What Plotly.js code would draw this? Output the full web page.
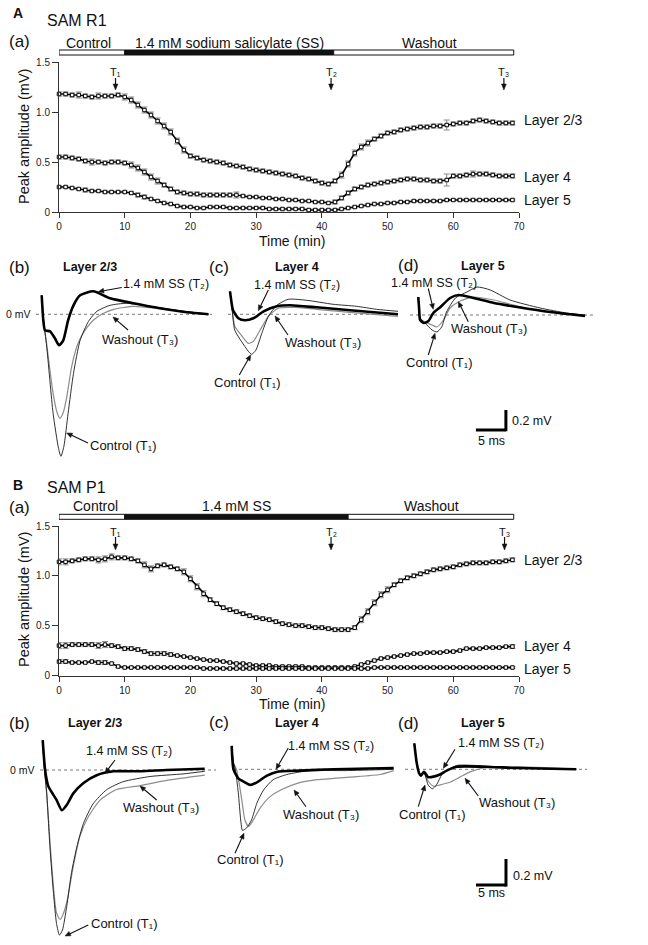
<!DOCTYPE html>
<html>
<head>
<meta charset="utf-8">
<script src="https://cdn.plot.ly/plotly-3.0.1.min.js"></script>
<style>html,body{margin:0;padding:0;background:#fff}#chart{width:648px;height:945px}</style>
</head>
<body>
<div id="chart"></div>
<script>
// ---------------- DATA ----------------
const minutes = [0,1,2,3,4,5,6,7,8,9,10,11,12,13,14,15,16,17,18,19,20,21,22,23,24,25,26,27,28,29,30,31,32,33,34,35,36,37,38,39,40,41,42,43,44,45,46,47,48,49,50,51,52,53,54,55,56,57,58,59,60,61,62,63,64,65,66,67,68,69];
const timeTicks = [0,10,20,30,40,50,60,70];
const ampTicks = [0,0.5,1.0,1.5];
const ampTickText = ['0','0.5','1.0','1.5'];

// Panel A (SAM R1) peak amplitudes (mV)
const aL23 = [1.18,1.18,1.17,1.17,1.16,1.15,1.16,1.16,1.16,1.17,1.15,1.12,1.07,1.02,0.97,0.91,0.86,0.80,0.71,0.62,0.56,0.54,0.52,0.51,0.50,0.49,0.47,0.46,0.45,0.43,0.42,0.41,0.40,0.39,0.38,0.37,0.36,0.34,0.33,0.31,0.29,0.28,0.31,0.37,0.48,0.59,0.65,0.69,0.73,0.76,0.79,0.80,0.82,0.83,0.84,0.85,0.85,0.86,0.86,0.87,0.88,0.89,0.89,0.91,0.92,0.91,0.90,0.89,0.89,0.89];
const aL4 = [0.55,0.55,0.54,0.53,0.51,0.50,0.50,0.49,0.50,0.50,0.49,0.47,0.44,0.40,0.35,0.31,0.27,0.23,0.20,0.19,0.18,0.18,0.17,0.17,0.17,0.17,0.17,0.17,0.16,0.15,0.15,0.14,0.14,0.13,0.13,0.12,0.12,0.11,0.11,0.10,0.10,0.09,0.10,0.14,0.19,0.23,0.25,0.27,0.28,0.29,0.30,0.31,0.32,0.33,0.33,0.32,0.32,0.31,0.31,0.32,0.36,0.36,0.37,0.38,0.38,0.38,0.37,0.36,0.36,0.36];
const aL5 = [0.25,0.25,0.24,0.23,0.22,0.21,0.21,0.20,0.20,0.20,0.20,0.19,0.17,0.15,0.13,0.11,0.09,0.08,0.06,0.05,0.05,0.04,0.04,0.05,0.05,0.05,0.04,0.04,0.04,0.04,0.04,0.04,0.03,0.03,0.03,0.03,0.03,0.03,0.02,0.02,0.02,0.02,0.02,0.03,0.04,0.05,0.06,0.07,0.08,0.08,0.09,0.09,0.10,0.10,0.11,0.11,0.11,0.11,0.11,0.12,0.12,0.12,0.12,0.12,0.12,0.12,0.12,0.12,0.12,0.12];
const aErr23 = [0.02,0.02,0.02,0.03,0.02,0.02,0.03,0.02,0.02,0.02,0.03,0.03,0.03,0.03,0.03,0.03,0.03,0.03,0.03,0.03,0.02,0.02,0.02,0.02,0.02,0.02,0.02,0.02,0.02,0.02,0.02,0.02,0.02,0.02,0.02,0.02,0.02,0.02,0.02,0.02,0.02,0.02,0.02,0.03,0.03,0.03,0.03,0.03,0.02,0.02,0.02,0.02,0.02,0.02,0.02,0.02,0.02,0.02,0.02,0.05,0.02,0.02,0.02,0.02,0.02,0.02,0.02,0.02,0.02,0.02];
const aErr4 = [0.02,0.02,0.02,0.02,0.02,0.03,0.02,0.02,0.02,0.02,0.02,0.03,0.03,0.03,0.03,0.03,0.02,0.02,0.02,0.02,0.02,0.02,0.02,0.02,0.02,0.02,0.02,0.03,0.01,0.01,0.01,0.01,0.01,0.01,0.01,0.01,0.01,0.01,0.01,0.01,0.01,0.01,0.02,0.02,0.02,0.02,0.02,0.02,0.02,0.02,0.02,0.02,0.02,0.02,0.02,0.02,0.02,0.02,0.02,0.06,0.02,0.02,0.02,0.03,0.02,0.02,0.02,0.02,0.02,0.02];
const aErr5 = [0.01,0.01,0.01,0.01,0.02,0.01,0.01,0.01,0.01,0.01,0.01,0.01,0.02,0.02,0.01,0.01,0.01,0.01,0.01,0.01,0.01,0.01,0.01,0.01,0.01,0.01,0.01,0.01,0.01,0.01,0.01,0.01,0.01,0.01,0.01,0.01,0.01,0.01,0.01,0.01,0.01,0.01,0.01,0.01,0.01,0.01,0.01,0.01,0.01,0.01,0.01,0.01,0.01,0.01,0.01,0.01,0.01,0.01,0.01,0.01,0.01,0.01,0.01,0.01,0.01,0.01,0.01,0.01,0.01,0.01];

// Panel B (SAM P1)
const bL23 = [1.14,1.14,1.15,1.16,1.17,1.17,1.16,1.17,1.19,1.18,1.18,1.17,1.15,1.11,1.07,1.10,1.11,1.09,1.07,1.04,0.97,0.89,0.82,0.76,0.72,0.68,0.66,0.64,0.62,0.60,0.58,0.57,0.56,0.54,0.52,0.51,0.50,0.50,0.49,0.48,0.48,0.47,0.46,0.46,0.46,0.48,0.56,0.64,0.73,0.81,0.86,0.91,0.95,0.98,1.00,1.02,1.04,1.06,1.07,1.08,1.09,1.11,1.12,1.13,1.13,1.13,1.14,1.14,1.15,1.16];
const bL4 = [0.30,0.30,0.31,0.31,0.31,0.31,0.30,0.31,0.30,0.29,0.27,0.27,0.26,0.24,0.22,0.22,0.22,0.21,0.20,0.19,0.18,0.17,0.16,0.15,0.15,0.14,0.13,0.12,0.12,0.11,0.10,0.10,0.10,0.09,0.09,0.09,0.09,0.09,0.08,0.08,0.08,0.08,0.08,0.08,0.08,0.09,0.11,0.13,0.15,0.17,0.18,0.19,0.20,0.21,0.22,0.22,0.23,0.23,0.23,0.24,0.24,0.25,0.27,0.27,0.27,0.28,0.28,0.28,0.29,0.29];
const bL5 = [0.14,0.14,0.13,0.13,0.13,0.14,0.13,0.13,0.12,0.09,0.08,0.08,0.08,0.08,0.08,0.08,0.08,0.08,0.08,0.08,0.08,0.08,0.07,0.07,0.07,0.07,0.07,0.07,0.07,0.07,0.07,0.07,0.07,0.07,0.07,0.07,0.07,0.07,0.07,0.07,0.07,0.07,0.07,0.07,0.07,0.07,0.07,0.07,0.08,0.08,0.08,0.08,0.08,0.08,0.08,0.08,0.08,0.08,0.08,0.08,0.08,0.08,0.08,0.08,0.08,0.08,0.08,0.08,0.08,0.08];
const bErr23 = [0.03,0.03,0.02,0.02,0.02,0.02,0.03,0.03,0.03,0.02,0.02,0.02,0.02,0.03,0.03,0.02,0.02,0.02,0.02,0.03,0.03,0.03,0.03,0.02,0.02,0.02,0.02,0.02,0.02,0.02,0.02,0.02,0.02,0.02,0.02,0.02,0.02,0.02,0.02,0.02,0.02,0.02,0.02,0.02,0.02,0.02,0.03,0.03,0.03,0.03,0.03,0.02,0.02,0.02,0.02,0.02,0.02,0.02,0.02,0.02,0.02,0.02,0.02,0.02,0.02,0.02,0.02,0.02,0.02,0.02];
const bErr4 = [0.03,0.03,0.02,0.02,0.02,0.02,0.03,0.03,0.02,0.02,0.02,0.02,0.02,0.02,0.02,0.02,0.02,0.02,0.01,0.01,0.01,0.01,0.01,0.01,0.01,0.01,0.01,0.01,0.01,0.01,0.01,0.01,0.01,0.01,0.01,0.01,0.01,0.01,0.01,0.01,0.01,0.01,0.01,0.01,0.01,0.01,0.01,0.01,0.01,0.01,0.01,0.01,0.01,0.01,0.01,0.01,0.01,0.01,0.01,0.01,0.01,0.01,0.01,0.01,0.01,0.01,0.01,0.01,0.01,0.02];
const bErr5 = [0.02,0.02,0.01,0.01,0.01,0.01,0.02,0.02,0.01,0.01,0.01,0.01,0.01,0.01,0.01,0.01,0.01,0.01,0.01,0.01,0.01,0.01,0.01,0.01,0.01,0.01,0.01,0.01,0.01,0.01,0.01,0.01,0.01,0.01,0.01,0.01,0.01,0.01,0.01,0.01,0.01,0.01,0.01,0.01,0.01,0.01,0.01,0.01,0.01,0.01,0.01,0.01,0.01,0.01,0.01,0.01,0.01,0.01,0.01,0.01,0.01,0.01,0.01,0.01,0.01,0.01,0.01,0.01,0.01,0.01];

// Drug application phases (min) and sampling time points T1..T3
const phaseNamesA = ['Control','1.4 mM sodium salicylate (SS)','Washout'];
const phaseNamesB = ['Control','1.4 mM SS','Washout'];
const phaseEdgesA = [0,10,41.8,69.2];
const phaseEdgesB = [0,10,44.0,69.2];
const phaseFill = ['#ffffff','#111111','#ffffff'];
const tMarkLabels = ['T\u2081','T\u2082','T\u2083'];
const tMarksA = [8.6,41.4,67.7];
const tMarksB = [8.6,41.4,67.8];
const layerNames = ['Layer 2/3','Layer 4','Layer 5'];
const traceNames = ['Control (T\u2081)','1.4 mM SS (T\u2082)','Washout (T\u2083)'];

// Field potential traces (ms, mV)
// A(b) Layer 2/3
const aB_ss_t   = [0,0.27,0.55,1.4,2.2,2.9,3.6,4.4,5.3,6.4,8.6,11.4,15.3,19.7,24.2,27.8];
const aB_ss_v   = [0.19,-0.06,-0.16,-0.17,-0.24,-0.31,-0.26,-0.06,0.09,0.19,0.23,0.16,0.11,0.06,0.02,0.0];
const aB_ctl_t  = [0,0.3,0.83,1.9,2.8,3.2,3.7,4.4,5.3,6.4,7.8,9.2,11.4,14.2,18.1,22.5,27.8];
const aB_ctl_v  = [0.19,-0.06,-0.32,-0.99,-1.34,-1.42,-1.32,-0.99,-0.59,-0.26,-0.07,0.03,0.09,0.11,0.08,0.04,0.0];
const aB_wsh_t  = [0,0.3,0.83,1.9,2.6,3.05,3.6,4.2,5.0,6.0,6.9,8.6,10.3,12.0,15.3,19.2,23.5,27.8];
const aB_wsh_v  = [0.19,-0.06,-0.30,-0.79,-0.99,-1.04,-0.98,-0.82,-0.52,-0.30,-0.19,-0.06,0.01,0.05,0.08,0.06,0.03,0.0];
// A(c) Layer 4
const aC_ss_t   = [0,0.3,0.5,1.4,2.5,3.9,5.6,7.8,10,14.4,20,28];
const aC_ss_v   = [0.23,0.10,0.04,-0.04,-0.06,-0.04,0.03,0.08,0.09,0.07,0.04,0.0];
const aC_ctl_t  = [0,0.3,0.8,1.9,3.05,3.6,4.3,5.3,6.4,7.8,9.7,12.8,17.2,21.1,24.4,28];
const aC_ctl_v  = [0.23,0.08,-0.16,-0.27,-0.37,-0.40,-0.36,-0.19,-0.02,0.09,0.15,0.14,0.10,0.08,0.05,0.03];
const aC_wsh_t  = [0,0.3,0.8,1.9,3.05,3.9,5.0,6.4,8.0,10.6,14.4,20,28];
const aC_wsh_v  = [0.23,0.08,-0.12,-0.21,-0.29,-0.27,-0.16,-0.02,0.06,0.07,0.05,0.02,-0.02];
// A(d) Layer 5
const aD_ss_t   = [0,0.15,0.3,0.9,1.7,2.5,3.7,5.3,6.7,9.2,12.6,16.5,22,27.8];
const aD_ss_v   = [0.18,0.05,-0.05,-0.08,-0.06,0.02,0.08,0.17,0.20,0.17,0.12,0.08,0.03,-0.01];
const aD_ctl_t  = [0,0.3,1.1,2.3,3.1,3.9,4.7,6.2,8.1,9.8,12,15.3,20.3,24.7,27.8];
const aD_ctl_v  = [0.18,-0.03,-0.08,-0.15,-0.17,-0.12,0.03,0.17,0.23,0.28,0.25,0.15,0.07,0.02,0.0];
const aD_wsh_t  = [0,0.3,1.1,2.3,3.1,4.2,5.3,7,9.2,12.6,16.5,22,27.8];
const aD_wsh_v  = [0.18,-0.03,-0.07,-0.10,-0.12,-0.05,0.07,0.14,0.18,0.15,0.09,0.03,0.0];
// B(b) Layer 2/3
const bB_ss_t   = [0,0.4,0.9,1.5,2.3,3.2,4.0,5.1,6.8,9.0,11.8,16.2,20.6,27];
const bB_ss_v   = [0.23,0.0,-0.12,-0.17,-0.23,-0.31,-0.27,-0.18,-0.10,-0.04,-0.01,-0.01,0.0,0.01];
const bB_ctl_t  = [0,0.3,0.67,1.2,1.8,2.3,2.8,3.3,4.0,4.8,5.7,6.8,8.4,10.7,13.4,17.9,23.4,27];
const bB_ctl_v  = [0.23,0.0,-0.18,-0.59,-0.95,-1.18,-1.27,-1.23,-1.05,-0.79,-0.59,-0.41,-0.26,-0.15,-0.09,-0.05,-0.03,-0.01];
const bB_wsh_t  = [0,0.3,0.67,1.2,1.8,2.3,2.9,3.4,4.1,5.1,6.2,7.6,9.6,12.3,16.2,20.7,27];
const bB_wsh_v  = [0.23,0.0,-0.18,-0.54,-0.90,-1.10,-1.15,-1.11,-1.0,-0.74,-0.51,-0.36,-0.23,-0.15,-0.12,-0.08,-0.04];
// B(c) Layer 4
const bC_ss_t   = [0,0.3,1.1,2.2,3.1,4.2,5.8,7.5,11.4,17,27];
const bC_ss_v   = [0.18,0.0,-0.07,-0.10,-0.12,-0.10,-0.05,-0.02,-0.01,0.0,0.01];
const bC_ctl_t  = [0,0.3,0.6,1.1,1.5,1.8,2.5,3.3,4.2,5.3,6.9,9.2,13,19,27];
const bC_ctl_v  = [0.18,0.05,0.0,-0.18,-0.39,-0.47,-0.45,-0.39,-0.26,-0.16,-0.08,-0.04,-0.01,-0.01,0.0];
const bC_wsh_t  = [0,0.3,0.8,1.7,2.2,2.8,3.6,4.7,6.4,8.6,10.8,14.2,19.7,24.7,27];
const bC_wsh_v  = [0.18,0.05,0.0,-0.24,-0.39,-0.44,-0.39,-0.30,-0.21,-0.15,-0.11,-0.08,-0.06,-0.04,-0.01];
// B(d) Layer 5
const bD_ss_t   = [0,0.4,0.8,1.1,1.6,2.3,2.8,4.3,5.4,7.1,11.5,17,27];
const bD_ss_v   = [0.20,0.05,-0.03,-0.05,-0.02,-0.06,-0.06,-0.04,-0.01,0.02,0.02,0.01,0.0];
const bD_ctl_t  = [0,0.4,0.8,1.1,1.6,2.3,3.0,3.7,4.6,5.4,7.1,10,17,27];
const bD_ctl_v  = [0.20,0.05,-0.03,-0.04,-0.02,-0.12,-0.15,-0.12,-0.04,-0.01,0.03,0.03,0.01,0.0];
const bD_wsh_t  = [0,0.4,0.8,1.1,1.6,2.3,3.2,4.3,5.9,7.6,9.3,11.5,17,27];
const bD_wsh_v  = [0.20,0.05,-0.03,-0.04,-0.03,-0.09,-0.13,-0.12,-0.10,-0.06,-0.02,0.01,0.02,0.0];

const scaleMs = 5;
const scaleMv = 0.2;

// ---------------- LAYOUT HELPERS ----------------
const W = 648, H = 945;
const FONT = '"Liberation Sans", Arial, "DejaVu Sans", sans-serif';
const PX = p => p / W;
const PY = p => 1 - p / H;
const MIN_PX = 460 / 70;   // pixels per minute on the time-course axes

const traces = [];
const ann = [];
const shapes = [];

function txt(px, py, text, size, o) {
  ann.push(Object.assign({xref:'paper', yref:'paper', x:PX(px), y:PY(py), text:text, showarrow:false,
    font:{size:size, color:'#111', family:FONT}, xanchor:'center', yanchor:'middle'}, o || {}));
}
// arrow drawn as a line + filled head (pixel positions of head and tail)
function arrow(hx, hy, tx, ty) {
  const dx = hx - tx, dy = hy - ty, len = Math.hypot(dx, dy);
  const ux = dx / len, uy = dy / len, nx = -uy, ny = ux;
  const L = 5.5, w = 2.4;
  const bx = hx - ux * L, by = hy - uy * L;
  shapes.push({type:'line', xref:'paper', yref:'paper', x0:PX(tx), y0:PY(ty), x1:PX(bx), y1:PY(by),
    line:{color:'#111', width:1.1}});
  shapes.push({type:'path', xref:'paper', yref:'paper',
    path:'M ' + PX(hx) + ' ' + PY(hy) + ' L ' + PX(bx + nx * w) + ' ' + PY(by + ny * w) + ' L ' + PX(bx - nx * w) + ' ' + PY(by - ny * w) + ' Z',
    fillcolor:'#111', line:{color:'#111', width:0.5}});
}

function tcAxis(yTopPx, yBotPx) {
  return [
    {domain:[PX(59), PX(519)], range:[0,70], showline:true, linecolor:'#333', linewidth:1, ticks:'outside',
     ticklen:5, tickcolor:'#333', tickvals:timeTicks, tickfont:{size:10, color:'#222', family:FONT},
     showgrid:false, zeroline:false, fixedrange:true},
    {domain:[PY(yBotPx), PY(yTopPx)], range:[0,1.5], showline:true, linecolor:'#333', linewidth:1, ticks:'outside',
     ticklen:6, tickcolor:'#333', tickvals:ampTicks, ticktext:ampTickText, tickfont:{size:10, color:'#222', family:FONT},
     showgrid:false, zeroline:false, fixedrange:true}
  ];
}
function waveAxis(x0, x1, t0, yTop, yBot, z, s) {
  return [
    {domain:[PX(x0), PX(x1)], range:[(x0 - t0) / 6, (x1 - t0) / 6], visible:false, fixedrange:true},
    {domain:[PY(yBot), PY(yTop)], range:[-(yBot - z) / s, (z - yTop) / s], visible:false, fixedrange:true}
  ];
}

const layout = {
  width: W, height: H, margin:{l:0, r:0, t:0, b:0},
  paper_bgcolor:'#ffffff', plot_bgcolor:'rgba(0,0,0,0)', showlegend:false,
  font:{family:FONT, color:'#111'}
};

// time-course axes
let ax = tcAxis(62, 212);
layout.xaxis = Object.assign(ax[0], {anchor:'y'});
layout.yaxis = Object.assign(ax[1], {anchor:'x'});
ax = tcAxis(526, 675.5);
layout.xaxis2 = Object.assign(ax[0], {anchor:'y2'});
layout.yaxis2 = Object.assign(ax[1], {anchor:'x2'});

// waveform axes: [id, x0, x1, stimulus px, top, bottom, zero px, px per mV, zero-line from, to]
const waveDefs = [
  [3, 30, 220, 41.7, 240, 480, 314.3, 100, 36, 212],
  [4, 222, 405, 230, 240, 480, 314.3, 100, 228, 398],
  [5, 408, 600, 418.3, 240, 480, 315, 100, 410, 593],
  [6, 30, 220, 42.7, 700, 945, 770, 130, 40, 216],
  [7, 222, 405, 231.7, 700, 945, 769.3, 130, 233, 395],
  [8, 406, 600, 414.3, 700, 945, 769.3, 130, 405, 587]
];
waveDefs.forEach(d => {
  const a = waveAxis(d[1], d[2], d[3], d[4], d[5], d[6], d[7]);
  layout['xaxis' + d[0]] = Object.assign(a[0], {anchor:'y' + d[0]});
  layout['yaxis' + d[0]] = Object.assign(a[1], {anchor:'x' + d[0]});
  shapes.push({type:'line', xref:'paper', yref:'y' + d[0], x0:PX(d[8]), x1:PX(d[9]), y0:0, y1:0,
    line:{color:'#777', width:1, dash:'dot'}, layer:'below'});
});

// ---------------- TRACES ----------------
function tc(y, err, xa, ya) {
  traces.push({x:minutes, y:y, xaxis:xa, yaxis:ya, type:'scatter', mode:'lines+markers', cliponaxis:false,
    line:{color:'#000', width:1.6},
    marker:{symbol:'square', size:3.5, color:'#fff', line:{color:'#000', width:1}},
    error_y:{type:'data', array:err, visible:true, color:'#8a8a8a', thickness:1, width:3},
    hoverinfo:'skip'});
}
tc(aL23, aErr23, 'x', 'y'); tc(aL4, aErr4, 'x', 'y'); tc(aL5, aErr5, 'x', 'y');
tc(bL23, bErr23, 'x2', 'y2'); tc(bL4, bErr4, 'x2', 'y2'); tc(bL5, bErr5, 'x2', 'y2');

function wave(t, v, n, kind) {
  const st = {
    wsh:{color:'#8c8c8c', width:1.2},
    ctl:{color:'#1a1a1a', width:0.9},
    ss:{color:'#000000', width:2.6}
  }[kind];
  traces.push({x:t, y:v, xaxis:'x' + n, yaxis:'y' + n, type:'scatter', mode:'lines', cliponaxis:false,
    line:{color:st.color, width:st.width, shape:'spline', smoothing:0.6}, hoverinfo:'skip'});
}
wave(aB_wsh_t, aB_wsh_v, 3, 'wsh'); wave(aB_ctl_t, aB_ctl_v, 3, 'ctl'); wave(aB_ss_t, aB_ss_v, 3, 'ss');
wave(aC_wsh_t, aC_wsh_v, 4, 'wsh'); wave(aC_ctl_t, aC_ctl_v, 4, 'ctl'); wave(aC_ss_t, aC_ss_v, 4, 'ss');
wave(aD_wsh_t, aD_wsh_v, 5, 'wsh'); wave(aD_ctl_t, aD_ctl_v, 5, 'ctl'); wave(aD_ss_t, aD_ss_v, 5, 'ss');
wave(bB_wsh_t, bB_wsh_v, 6, 'wsh'); wave(bB_ctl_t, bB_ctl_v, 6, 'ctl'); wave(bB_ss_t, bB_ss_v, 6, 'ss');
wave(bC_wsh_t, bC_wsh_v, 7, 'wsh'); wave(bC_ctl_t, bC_ctl_v, 7, 'ctl'); wave(bC_ss_t, bC_ss_v, 7, 'ss');
wave(bD_wsh_t, bD_wsh_v, 8, 'wsh'); wave(bD_ctl_t, bD_ctl_v, 8, 'ctl'); wave(bD_ss_t, bD_ss_v, 8, 'ss');

// ---------------- PHASE BARS & T MARKS ----------------
function phaseBar(edges, xa, top, bot) {
  for (let i = 0; i < 3; i++) {
    shapes.push({type:'rect', xref:xa, yref:'paper', x0:edges[i], x1:edges[i+1], y0:PY(bot), y1:PY(top),
      fillcolor:phaseFill[i], line:{color:'#111', width:1}});
  }
}
phaseBar(phaseEdgesA, 'x', 50, 55);
phaseBar(phaseEdgesB, 'x2', 514.3, 519.3);

function tMarks(times, xa, labelPy, tailPy, headPy) {
  times.forEach((t, i) => {
    ann.push({xref:xa, yref:'paper', x:t, y:PY(labelPy), text:tMarkLabels[i], showarrow:false,
      font:{size:11, color:'#111', family:FONT}, xanchor:'center', yanchor:'middle'});
    const hw = 2.4 / MIN_PX;
    shapes.push({type:'line', xref:xa, yref:'paper', x0:t, x1:t, y0:PY(tailPy), y1:PY(headPy - 5),
      line:{color:'#111', width:1.2}});
    shapes.push({type:'path', xref:xa, yref:'paper',
      path:'M ' + t + ' ' + PY(headPy) + ' L ' + (t - hw) + ' ' + PY(headPy - 6) + ' L ' + (t + hw) + ' ' + PY(headPy - 6) + ' Z',
      fillcolor:'#111', line:{color:'#111', width:0.5}});
  });
}
tMarks(tMarksA, 'x', 72, 78, 90);
tMarks(tMarksB, 'x2', 532, 537, 550);

// scale bars (drawn in data units of the Layer 5 panels)
function scaleBar(n, t0, v0) {
  shapes.push({type:'line', xref:'x' + n, yref:'y' + n, x0:t0, x1:t0 + scaleMs, y0:v0, y1:v0, line:{color:'#000', width:3}});
  shapes.push({type:'line', xref:'x' + n, yref:'y' + n, x0:t0 + scaleMs, x1:t0 + scaleMs, y0:v0 - 0.012, y1:v0 + scaleMv, line:{color:'#000', width:3}});
}
scaleBar(5, 9.6, -1.15);
scaleBar(8, 10.28, -0.89);

// ---------------- TEXT ----------------
// Panel A
txt(18, 13, '<b>A</b>', 14);
txt(45, 20, 'SAM R1', 16, {xanchor:'left'});
txt(7, 42, '(a)', 17, {xanchor:'left'});
txt(88, 43, phaseNamesA[0], 14);
txt(229, 43, phaseNamesA[1], 14);
txt(430, 43, phaseNamesA[2], 14);
txt(522, 120, layerNames[0], 14, {xanchor:'left'});
txt(522, 177, layerNames[1], 14, {xanchor:'left'});
txt(522, 200, layerNames[2], 14, {xanchor:'left'});
txt(24, 137, 'Peak amplitude (mV)', 14.5, {textangle:-90});
txt(292, 241, 'Time (min)', 14);
txt(7, 267, '(b)', 17, {xanchor:'left'});
txt(90, 267, '<b>Layer 2/3</b>', 12.5);
txt(207, 267, '(c)', 17, {xanchor:'left'});
txt(297, 267, '<b>Layer 4</b>', 12.5);
txt(396, 266, '(d)', 17, {xanchor:'left'});
txt(483, 266, '<b>Layer 5</b>', 12.5);
txt(33, 314, '0 mV', 10.5, {xanchor:'right'});

txt(166, 284, traceNames[1], 12.5); arrow(98.3, 291.7, 121.7, 287.5);
txt(140, 339, traceNames[2], 13); arrow(113, 317, 128, 330);
txt(123.5, 446, traceNames[0], 13); arrow(66.7, 433, 88, 443);

txt(297, 285, traceNames[1], 12.5); arrow(258.3, 310.7, 268.3, 290);
txt(323, 342, traceNames[2], 13); arrow(275, 316, 288, 335);
txt(247.5, 382, traceNames[0], 13); arrow(250.7, 355, 239.3, 375);

txt(434, 283, traceNames[1], 12.5); arrow(433.3, 309.3, 428.3, 288.5);
txt(488.5, 328, traceNames[2], 13); arrow(458.3, 301.7, 468.3, 321.7);
txt(439, 363, traceNames[0], 13); arrow(435, 333.3, 428.3, 355);

txt(510, 421, '0.2 mV', 12.5, {xanchor:'left'});
txt(491, 441, '5 ms', 12.5);

// Panel B
txt(18, 485, '<b>B</b>', 14);
txt(45, 487, 'SAM P1', 16, {xanchor:'left'});
txt(7, 507, '(a)', 17, {xanchor:'left'});
txt(95, 506, phaseNamesB[0], 14);
txt(236, 506, phaseNamesB[1], 14);
txt(431, 506, phaseNamesB[2], 14);
txt(522, 560, layerNames[0], 14, {xanchor:'left'});
txt(522, 646, layerNames[1], 14, {xanchor:'left'});
txt(522, 669, layerNames[2], 14, {xanchor:'left'});
txt(24, 600, 'Peak amplitude (mV)', 14.5, {textangle:-90});
txt(292, 704, 'Time (min)', 14);
txt(7, 723, '(b)', 17, {xanchor:'left'});
txt(95, 723, '<b>Layer 2/3</b>', 12.5);
txt(207, 722, '(c)', 17, {xanchor:'left'});
txt(297, 723, '<b>Layer 4</b>', 12.5);
txt(396, 723, '(d)', 17, {xanchor:'left'});
txt(483, 723, '<b>Layer 5</b>', 12.5);
txt(37, 770, '0 mV', 10.5, {xanchor:'right'});

txt(129, 751, traceNames[1], 12.5); arrow(105, 773.3, 115, 760);
txt(161, 807, traceNames[2], 13); arrow(140, 786, 156.7, 800);
txt(124.5, 923, traceNames[0], 13); arrow(65, 936, 88.3, 925);

txt(331, 746, traceNames[1], 12.5); arrow(276, 769.3, 288.3, 748);
txt(321, 814, traceNames[2], 13); arrow(294, 790, 306, 806.7);
txt(250, 859, traceNames[0], 13); arrow(244, 833.3, 235, 853.3);

txt(501, 743, traceNames[1], 12.5); arrow(443.3, 768.3, 455, 749.3);
txt(516.5, 802, traceNames[2], 13); arrow(465, 778.3, 478.3, 796);
txt(432.5, 814, traceNames[0], 13); arrow(425, 785, 418.3, 806.7);

txt(511, 876, '0.2 mV', 12.5, {xanchor:'left'});
txt(491, 893, '5 ms', 12.5);

layout.annotations = ann;
layout.shapes = shapes;

Plotly.newPlot('chart', traces, layout, {displayModeBar:false, staticPlot:true});
</script>
</body>
</html>
